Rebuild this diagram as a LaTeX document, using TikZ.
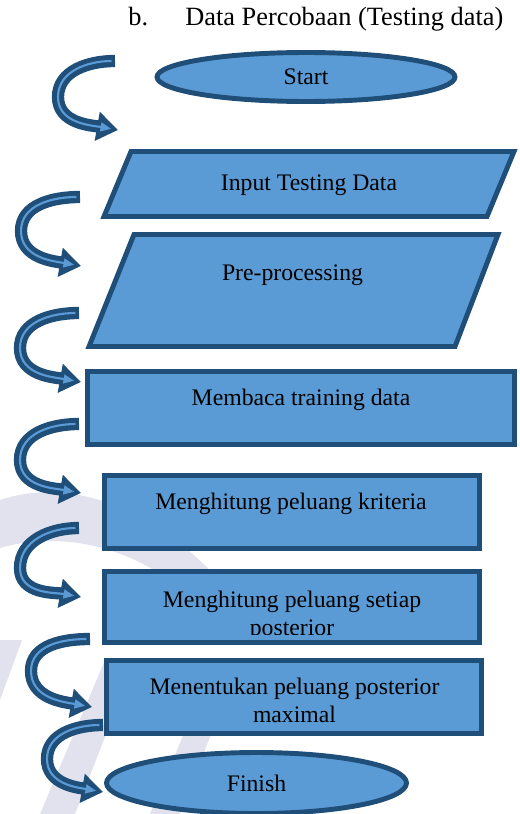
\documentclass[tikz,border=0pt]{standalone}
\usepackage{fontspec}
\setmainfont{Liberation Serif}
\usetikzlibrary{shapes.geometric,arrows.meta}

\definecolor{flowfill}{HTML}{5B9BD5}
\definecolor{flowline}{HTML}{1F4E79}
\definecolor{markfill}{HTML}{E2E2EE}
\newcommand{\flowfont}{\fontsize{13.5}{15.6}\selectfont}

\begin{document}
\begin{tikzpicture}[x=0.02cm, y=-0.02cm,
    flow/.style={draw=flowline, fill=flowfill, line width=2.8pt},
    term/.style={flow, ellipse, inner sep=0pt, font=\flowfont},
    boxtext/.style={anchor=base, align=center, font=\flowfont},
    curl/.style={draw=flowline, line width=7pt, -{Triangle[length=12pt,width=16pt]},
      postaction={draw=flowfill, line width=1.2pt, shorten <=2pt, shorten >=4pt,
        -{Triangle[length=6pt,width=5pt]}}}]

    \useasboundingbox (0,0) rectangle (520,814);

    %% Watermark in the background
    \fill[markfill] (0,500) .. controls (90,470) and (190,530) .. (250,620)
        -- (222,632) .. controls (170,560) and (80,525) .. (0,548) -- cycle;
    \fill[markfill] (0,640) -- (22,640) -- (0,700) -- cycle;
    \fill[markfill] (40,814) -- (105,660) -- (135,660) -- (75,814) -- cycle;
    \fill[markfill] (150,814) -- (215,660) -- (240,660) -- (180,814) -- cycle;

    %% Title
    \node[anchor=base west, inner sep=0pt, font=\fontsize{15}{18}\selectfont] (item) at (128,26) {b.};
    \node[anchor=base west, inner sep=0pt, font=\fontsize{15}{18}\selectfont] (title) at (185,26) {Data Percobaan (Testing data)};

    %% Curled arrows on the left
    \draw[curl] (115,61) to[out=180,in=90] (58,97) to[out=-90,in=170] (118,130);
    \draw[curl] (80,197) to[out=180,in=90] (21,231) to[out=-90,in=170] (81,266);
    \draw[curl] (79,313) to[out=180,in=90] (20,348) to[out=-90,in=170] (81,382);
    \draw[curl] (79,424) to[out=180,in=90] (20,460) to[out=-90,in=170] (81,493);
    \draw[curl] (79,528) to[out=180,in=90] (20,568) to[out=-90,in=170] (81,597);
    \draw[curl] (90,639) to[out=180,in=90] (31,671) to[out=-90,in=170] (92,707);
    \draw[curl] (103,725) to[out=180,in=90] (47,759) to[out=-90,in=170] (103,792);

    % Start
    \node[term, minimum width=5.96cm, minimum height=0.98cm] (start) at (306,77) {Start};

    % Input testing data
    \draw[flow] (131,151.5) -- (514,151.5) -- (487,216.5) -- (104,216.5) -- cycle;
    \node[boxtext] (input) at (309,191) {Input Testing Data};

    % Pre-processing
    \draw[flow] (134,234.5) -- (498,234.5) -- (455,346.5) -- (89,346.5) -- cycle;
    \node[boxtext] (prep) at (292.5,280) {Pre-processing};

    % Membaca training data
    \draw[flow] (87.5,371.5) rectangle (514.5,444.5);
    \node[boxtext] (read) at (301,405) {Membaca training data};

    % Menghitung peluang kriteria
    \draw[flow] (104.5,475.5) rectangle (479.5,548.5);
    \node[boxtext] (crit) at (291,509) {Menghitung peluang kriteria};

    % Menghitung peluang setiap posterior (text cut off at the bottom)
    \draw[flow] (104.5,571.5) rectangle (479.5,642.5);
    \begin{scope}
        \clip (104.5,571.5) rectangle (479.5,634);
        \node[boxtext] (post) at (292,635) {Menghitung peluang setiap\\posterior};
    \end{scope}

    % Menentukan peluang posterior maximal
    \draw[flow] (106.5,660.5) rectangle (481.5,733.5);
    \node[boxtext] (maxpost) at (294.5,722) {Menentukan peluang posterior\\maximal};

    % Finish
    \node[term, minimum width=6.0cm, minimum height=1.22cm] (finish) at (256.5,783) {Finish};

\end{tikzpicture}
\end{document}
